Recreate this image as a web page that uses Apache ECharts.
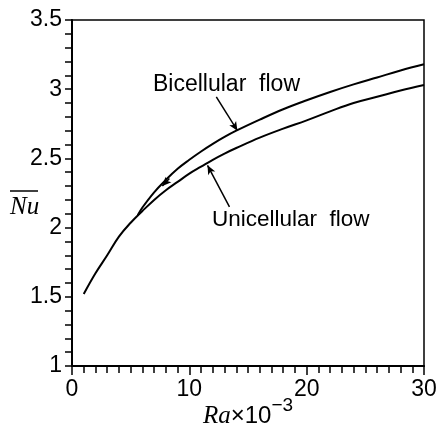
<!DOCTYPE html>
<html>
<head>
<meta charset="utf-8">
<script src="https://cdn.jsdelivr.net/npm/echarts@6/dist/echarts.min.js"></script>
<style>
  html, body { margin: 0; padding: 0; background: #fff; }
  #chart { width: 438px; height: 427px; }
</style>
</head>
<body>
<div id="chart"></div>
<script>
// Ra x 10^-3 and mean Nu
const raUni = [1, 2, 3, 4, 5, 6, 7, 8, 9, 10, 11, 12, 13, 14, 16, 18, 20, 22, 24, 26, 28, 30];
const nuUni = [1.52, 1.67, 1.8, 1.935, 2.035, 2.12, 2.2, 2.27, 2.33, 2.39, 2.44, 2.49, 2.535, 2.575, 2.65, 2.715, 2.775, 2.84, 2.9, 2.945, 2.99, 3.03];

const raBi = [5.6, 6, 7, 8, 9, 10, 11, 12, 13, 14, 16, 18, 20, 22, 24, 26, 28, 30];
const nuBi = [2.09, 2.145, 2.255, 2.345, 2.425, 2.49, 2.55, 2.605, 2.655, 2.7, 2.78, 2.855, 2.92, 2.98, 3.035, 3.085, 3.135, 3.18];

const xTicks = [0, 10, 20, 30];
const yTicks = [1, 1.5, 2, 2.5, 3, 3.5];

const chart = echarts.init(document.getElementById("chart"), null, { renderer: "canvas" });

const pair = (xs, ys) => xs.map((x, i) => [x, ys[i]]);
const tickFont = "'Liberation Sans Narrow', 'Liberation Sans', sans-serif";

chart.setOption({
  animation: false,
  backgroundColor: "#fff",
  grid: {
    left: 72,
    right: 14,
    top: 20,
    bottom: 61,
    outerBoundsMode: "none",
    containLabel: false,
    show: true,
    borderColor: "#000",
    borderWidth: 1.5,
  },
  xAxis: {
    type: "value",
    min: xTicks[0],
    max: xTicks[xTicks.length - 1],
    interval: 10,
    name: "{r|Ra}{t|×10}{s|−3}",
    nameLocation: "middle",
    nameGap: 35,
    nameMoveOverlap: false,
    nameTextStyle: {
      rich: {
        r: { fontFamily: "'Liberation Serif', serif", fontStyle: "italic", fontSize: 25, lineHeight: 30, color: "#000" },
        t: { fontFamily: tickFont, fontSize: 24, lineHeight: 30, color: "#000" },
        s: { fontFamily: tickFont, fontSize: 19, lineHeight: 22, padding: [0, 0, 20, 0], color: "#000" },
      },
    },
    axisLine: { lineStyle: { color: "#000", width: 2 } },
    axisTick: { length: 9, lineStyle: { color: "#000", width: 1.5 } },
    minorTick: { show: true, splitNumber: 10, length: 7, lineStyle: { color: "#000", width: 1.5 } },
    axisLabel: { color: "#000", fontFamily: tickFont, fontSize: 23, margin: 12 },
    splitLine: { show: false },
  },
  yAxis: {
    type: "value",
    min: yTicks[0],
    max: yTicks[yTicks.length - 1],
    interval: 0.5,
    axisLine: { lineStyle: { color: "#000", width: 2 } },
    axisTick: { length: 7, lineStyle: { color: "#000", width: 1.5 } },
    minorTick: { show: true, splitNumber: 5, length: 7, lineStyle: { color: "#000", width: 1.5 } },
    axisLabel: { color: "#000", fontFamily: tickFont, fontSize: 23, margin: 10 },
    splitLine: { show: false },
  },
  graphic: [
    {
      type: "text",
      left: 153,
      top: 73,
      style: { text: "Bicellular  flow", fontFamily: "'Liberation Sans', sans-serif", fontSize: 23, fill: "#000" },
    },
    {
      type: "text",
      left: 212,
      top: 208,
      style: { text: "Unicellular  flow", fontFamily: "'Liberation Sans', sans-serif", fontSize: 22.5, fill: "#000" },
    },
    {
      type: "text",
      left: 10,
      top: 195,
      style: { text: "Nu", fontFamily: "'Liberation Serif', serif", fontStyle: "italic", fontSize: 25, fill: "#000" },
    },
    {
      type: "line",
      shape: { x1: 10, y1: 191, x2: 38, y2: 191 },
      style: { stroke: "#000", lineWidth: 1.5 },
    },
  ],
  series: [
    {
      name: "Unicellular flow",
      type: "line",
      data: pair(raUni, nuUni),
      smooth: 0.4,
      symbol: "none",
      lineStyle: { color: "#000", width: 2 },
      markLine: {
        silent: true,
        symbol: ["none", "arrow"],
        symbolSize: [6, 9],
        label: { show: false },
        lineStyle: { color: "#000", width: 1.5, type: "solid" },
        data: [[{ coord: [13.42, 2.15] }, { coord: [11.55, 2.45] }]],
      },
    },
    {
      name: "Bicellular flow",
      type: "line",
      data: pair(raBi, nuBi),
      smooth: 0.4,
      symbol: "none",
      lineStyle: { color: "#000", width: 2 },
      markLine: {
        silent: true,
        symbol: ["none", "arrow"],
        symbolSize: [6, 9],
        label: { show: false },
        lineStyle: { color: "#000", width: 1.5, type: "solid" },
        data: [
          [{ coord: [12.3, 2.945] }, { coord: [14.1, 2.7] }],
          [{ coord: [8.3, 2.355] }, { coord: [7.7, 2.3] }],
        ],
      },
    },
  ],
});
</script>
</body>
</html>
